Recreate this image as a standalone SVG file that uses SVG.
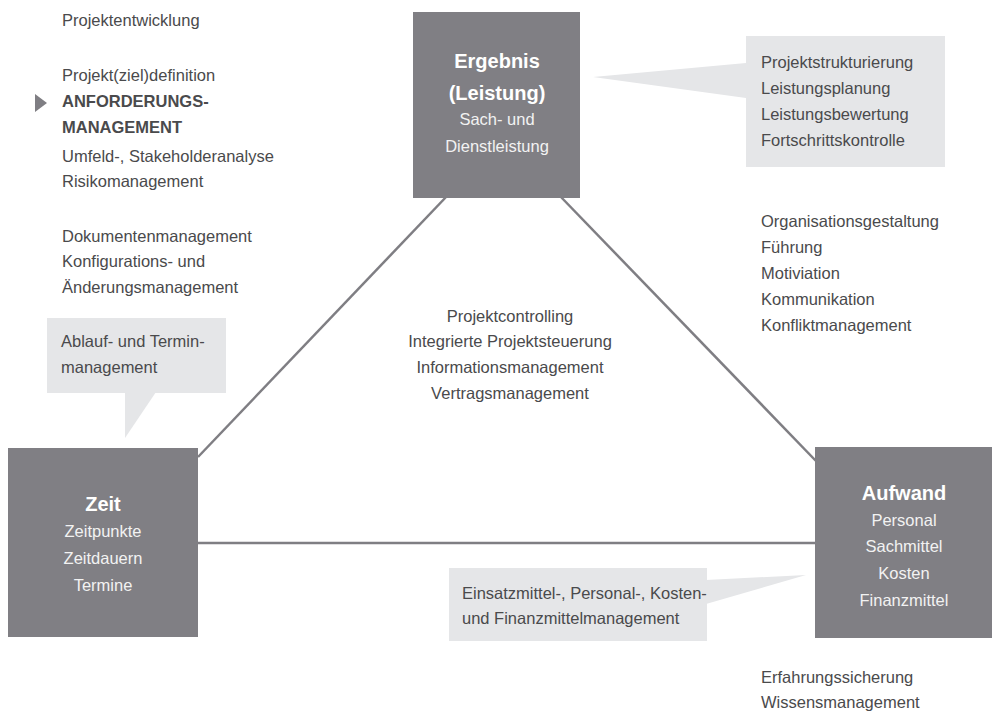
<svg xmlns="http://www.w3.org/2000/svg" width="992" height="712" viewBox="0 0 992 712">
<style>
.t{font-family:"Liberation Sans",Arial,sans-serif;font-size:16.5px;fill:#4a4a4c}
.b{font-weight:bold}
.box{fill:#807f84}
.call{fill:#e5e6e8}
.h{font-family:"Liberation Sans",Arial,sans-serif;font-size:20px;font-weight:bold;fill:#ffffff;text-anchor:middle}
.w{font-family:"Liberation Sans",Arial,sans-serif;font-size:16.5px;fill:#f2f2f2;text-anchor:middle}
.c{text-anchor:middle}
.ln{stroke:#7f7e83;stroke-width:2.5;fill:none}
</style>
<rect width="992" height="712" fill="#ffffff"/>
<g id="connectors">
<line class="ln" x1="198" y1="457" x2="447" y2="196"/>
<line class="ln" x1="560" y1="196" x2="816" y2="461"/>
<line class="ln" x1="198" y1="543" x2="816" y2="543"/>
</g>
<g id="left-list">
<text class="t" x="62" y="26">Projektentwicklung</text>
<text class="t" x="62" y="81">Projekt(ziel)definition</text>
<polygon points="35,94 47,103 35,112" fill="#7f7e83"/>
<text class="t b" x="62" y="107">ANFORDERUNGS-</text>
<text class="t b" x="62" y="133">MANAGEMENT</text>
<text class="t" x="62" y="162">Umfeld-, Stakeholderanalyse</text>
<text class="t" x="62" y="187">Risikomanagement</text>
<text class="t" x="62" y="242">Dokumentenmanagement</text>
<text class="t" x="62" y="267">Konfigurations- und</text>
<text class="t" x="62" y="293">Änderungsmanagement</text>
</g>
<g id="ergebnis">
<rect class="box" x="413" y="12" width="167" height="186"/>
<text class="h" x="497" y="68">Ergebnis</text>
<text class="h" x="497" y="100">(Leistung)</text>
<text class="w" x="497" y="125">Sach- und</text>
<text class="w" x="497" y="152">Dienstleistung</text>
</g>
<g id="callout-leistung">
<polygon class="call" points="746,63 593,77 746,98"/>
<rect class="call" x="746" y="36" width="199" height="131"/>
<text class="t" x="761" y="68">Projektstrukturierung</text>
<text class="t" x="761" y="94">Leistungsplanung</text>
<text class="t" x="761" y="120">Leistungsbewertung</text>
<text class="t" x="761" y="146">Fortschrittskontrolle</text>
</g>
<g id="right-list">
<text class="t" x="761" y="227">Organisationsgestaltung</text>
<text class="t" x="761" y="253">Führung</text>
<text class="t" x="761" y="279">Motiviation</text>
<text class="t" x="761" y="305">Kommunikation</text>
<text class="t" x="761" y="331">Konfliktmanagement</text>
</g>
<g id="center-list">
<text class="t c" x="510" y="322">Projektcontrolling</text>
<text class="t c" x="510" y="347">Integrierte Projektsteuerung</text>
<text class="t c" x="510" y="373">Informationsmanagement</text>
<text class="t c" x="510" y="399">Vertragsmanagement</text>
</g>
<g id="callout-termin">
<polygon class="call" points="125,392 156,392 125,438"/>
<rect class="call" x="47" y="318" width="179" height="75"/>
<text class="t" x="61" y="347">Ablauf- und Termin-</text>
<text class="t" x="61" y="373">management</text>
</g>
<g id="zeit">
<rect class="box" x="8" y="448" width="190" height="189"/>
<text class="h" x="103" y="511">Zeit</text>
<text class="w" x="103" y="537">Zeitpunkte</text>
<text class="w" x="103" y="564">Zeitdauern</text>
<text class="w" x="103" y="591">Termine</text>
</g>
<g id="aufwand">
<rect class="box" x="815" y="447" width="177" height="191"/>
<text class="h" x="904" y="500">Aufwand</text>
<text class="w" x="904" y="526">Personal</text>
<text class="w" x="904" y="552">Sachmittel</text>
<text class="w" x="904" y="579">Kosten</text>
<text class="w" x="904" y="606">Finanzmittel</text>
</g>
<g id="callout-aufwand">
<polygon class="call" points="706,580 806,575 706,604"/>
<rect class="call" x="449" y="568" width="258" height="73"/>
<text class="t" x="462" y="599">Einsatzmittel-, Personal-, Kosten-</text>
<text class="t" x="462" y="624">und Finanzmittelmanagement</text>
</g>
<g id="bottom-list">
<text class="t" x="761" y="683">Erfahrungssicherung</text>
<text class="t" x="761" y="708">Wissensmanagement</text>
</g>
</svg>
